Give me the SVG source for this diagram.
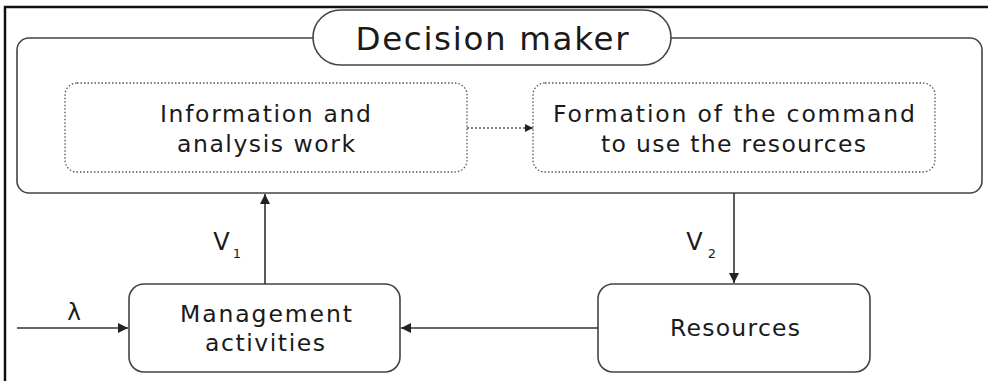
<svg xmlns="http://www.w3.org/2000/svg" width="988" height="381" viewBox="0 0 988 381">
<defs>
<style>
.box{fill:#fff;stroke:#444;stroke-width:1.6}
.dot{fill:none;stroke:#555;stroke-width:1.3;stroke-dasharray:1.5 2}
.ln{stroke:#333;stroke-width:1.6;fill:none}
.t{font-family:"DejaVu Sans","Open Sans",sans-serif;fill:#1a1a1a;text-anchor:middle}
.m{font-size:23.5px}
</style>
<marker id="ah" viewBox="0 0 10 10" refX="10" refY="5" markerWidth="10" markerHeight="10" markerUnits="userSpaceOnUse" orient="auto">
<path d="M0,0 L10,5 L0,10 z" fill="#222"/>
</marker>
<marker id="ahs" viewBox="0 0 10 10" refX="10" refY="5" markerWidth="8" markerHeight="8" markerUnits="userSpaceOnUse" orient="auto">
<path d="M0,0 L10,5 L0,10 z" fill="#222"/>
</marker>
</defs>
<rect width="988" height="381" fill="#fff"/>
<path d="M5,381 V7 H988" fill="none" stroke="#111" stroke-width="2.5"/>
<g id="decision-maker">
<rect class="box" x="17" y="38" width="965" height="155" rx="12"/>
<rect class="box" x="313" y="10" width="358" height="55" rx="27.5"/>
<text class="t" x="492" y="50" font-size="32.5" textLength="273" lengthAdjust="spacing">Decision maker</text>
</g>
<g id="info-analysis">
<rect class="dot" x="65" y="83" width="402" height="89" rx="12"/>
<text class="t m" x="265.5" y="122" textLength="211" lengthAdjust="spacing">Information and</text>
<text class="t m" x="266" y="152" textLength="178" lengthAdjust="spacing">analysis work</text>
</g>
<g id="command">
<rect class="dot" x="533" y="83" width="402" height="89" rx="12"/>
<text class="t m" x="734" y="122" textLength="362" lengthAdjust="spacing">Formation of the command</text>
<text class="t m" x="733.5" y="152" textLength="265" lengthAdjust="spacing">to use the resources</text>
</g>
<g id="management">
<rect class="box" x="129" y="284" width="271" height="88" rx="15"/>
<text class="t m" x="266" y="322" textLength="172" lengthAdjust="spacing">Management</text>
<text class="t m" x="265" y="351" textLength="120" lengthAdjust="spacing">activities</text>
</g>
<g id="resources">
<rect class="box" x="598" y="284" width="272" height="88" rx="15"/>
<text class="t m" x="735" y="336" textLength="130" lengthAdjust="spacing">Resources</text>
</g>
<g id="connectors">
<line class="dot" x1="467" y1="128" x2="533" y2="128" marker-end="url(#ahs)" style="stroke-dasharray:2 2"/>
<line class="ln" x1="265" y1="284" x2="265" y2="194" marker-end="url(#ah)"/>
<line class="ln" x1="734" y1="193" x2="734" y2="283" marker-end="url(#ah)"/>
<line class="ln" x1="598" y1="328" x2="401" y2="328" marker-end="url(#ah)"/>
<line class="ln" x1="17" y1="328" x2="128" y2="328" marker-end="url(#ah)"/>
</g>
<g id="labels">
<text class="t" x="221.5" y="250" font-size="24">V</text>
<text class="t" x="237" y="258" font-size="13">1</text>
<text class="t" x="694.5" y="250" font-size="24">V</text>
<text class="t" x="712" y="258" font-size="13">2</text>
<text class="t" x="74" y="320" font-size="23">λ</text>
</g>
</svg>
